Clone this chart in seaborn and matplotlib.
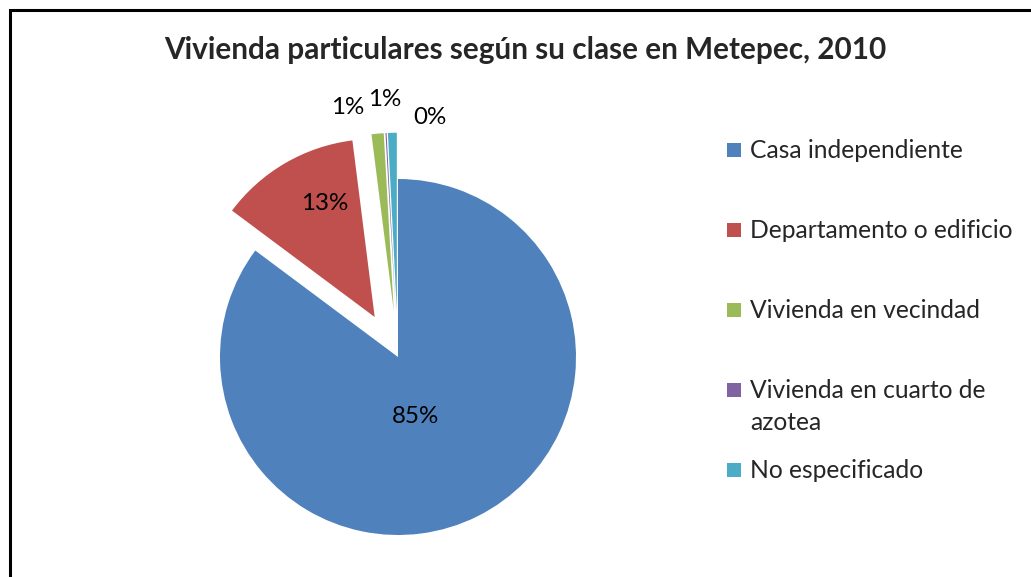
import numpy as np
import matplotlib
matplotlib.use("Agg")
import matplotlib.pyplot as plt
from matplotlib.patches import Rectangle
import seaborn as sns

# ---- data ----
categories = ["Casa independiente", "Departamento o edificio", "Vivienda en vecindad",
              "Vivienda en cuarto de\nazotea", "No especificado"]
values = [85.2, 12.8, 1.1, 0.1, 0.8]
pct_labels = ["85%", "13%", "1%", "0%", "1%"]
colors = ["#4F81BD", "#C0504D", "#9BBB59", "#8064A2", "#4BACC6"]
title = "Vivienda particulares según su clase en Metepec, 2010"

sns.set_theme(style="white")
FONT = ["Lato", "DejaVu Sans"]
plt.rcParams["font.family"] = FONT

W, H = 1031, 577
fig = plt.figure(figsize=(W / 100, H / 100), dpi=100)
fig.patch.set_facecolor("white")

# pie axes: center at (398, 357) px, radius 178 px
cx, cy, R = 398, 357, 178
half = 1.25 * R
ax = fig.add_axes([(cx - half) / W, (H - cy - half) / H, 2 * half / W, 2 * half / H])
explode = [0, 0.26, 0.26, 0.26, 0.26]
wedges, _ = ax.pie(values, colors=sns.color_palette(colors), startangle=90, counterclock=False,
                   explode=explode, radius=1.0, wedgeprops=dict(linewidth=0))
ax.set_xlim(-1.25, 1.25)
ax.set_ylim(-1.25, 1.25)
ax.set_aspect("auto")
ax.axis("off")

# percentage label anchors (pie radius units, relative to pie centre)
label_pos = [(0.096, -0.337), (-0.41, 0.865), (-0.281, 1.404), (0.18, 1.343), (-0.073, 1.444)]
for lab, (lx, ly) in zip(pct_labels, label_pos):
    ax.text(lx, ly, lab, ha="center", va="center", fontsize=17.4, color="black", family=FONT)

fig.text(525 / W, 1 - 50 / H, title, ha="center", va="center", fontsize=21.4,
         fontweight="bold", family=FONT)

# legend
leg_x, leg_y0, leg_step = 727, 150, 80
for i, (cat, col) in enumerate(zip(categories, colors)):
    y = leg_y0 + i * leg_step
    fig.add_artist(Rectangle((leg_x / W, 1 - (y + 7) / H), 14 / W, 14 / H,
                             transform=fig.transFigure, facecolor=col, edgecolor="none"))
    if "\n" in cat:
        fig.text((leg_x + 23) / W, 1 - (y - 11) / H, cat, ha="left", va="top",
                 fontsize=17.7, family=FONT, linespacing=1.45)
    else:
        fig.text((leg_x + 23) / W, 1 - y / H, cat, ha="left", va="center",
                 fontsize=17.7, family=FONT)

# outer frame
fig.add_artist(Rectangle((10 / W, -0.1), 1.1, 1 - 10 / H + 0.1, transform=fig.transFigure,
                         fill=False, edgecolor="black", linewidth=2.2))

fig.savefig("out.png", dpi=100, facecolor="white")
